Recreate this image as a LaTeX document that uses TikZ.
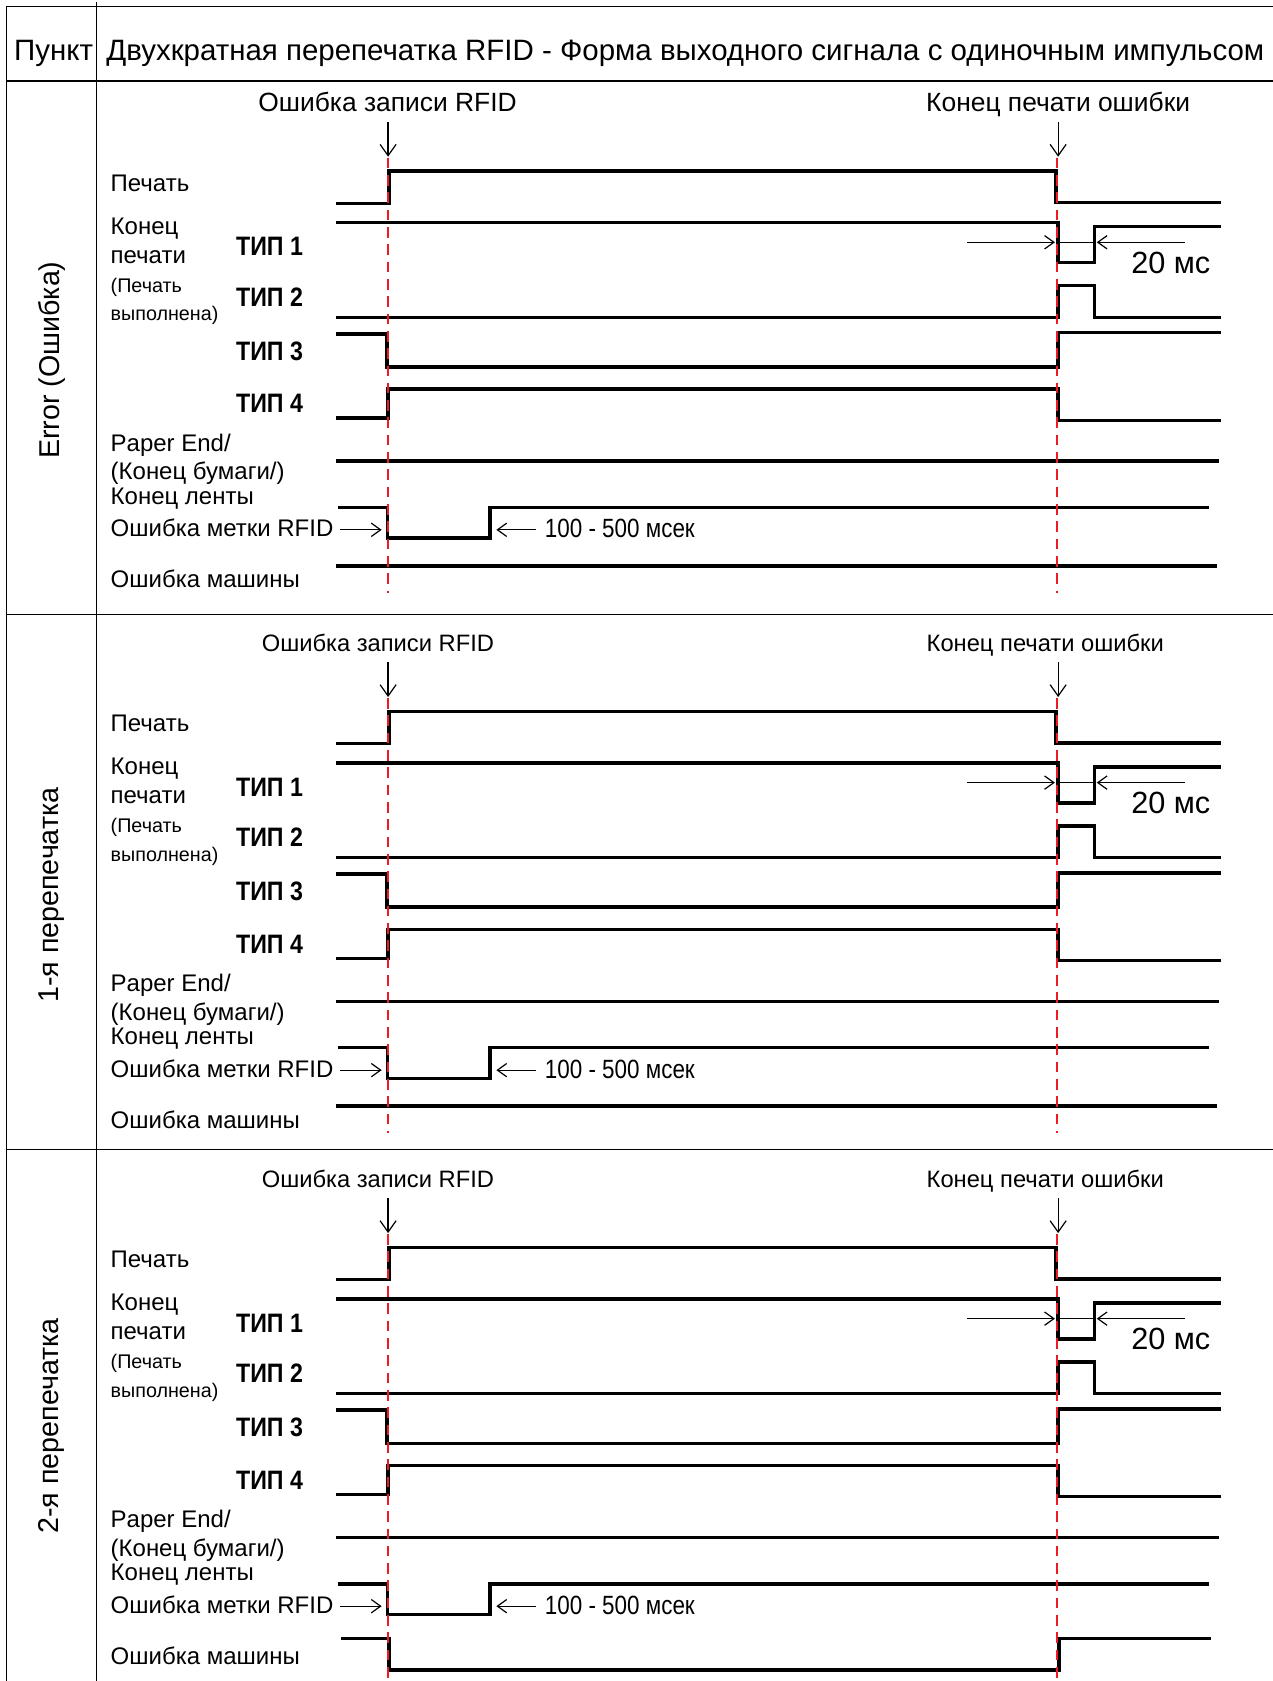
\documentclass[tikz,border=0pt]{standalone}
\usepackage{fontspec}
\setmainfont{Liberation Sans}
\newfontfamily\condfont{Liberation Sans}[FakeStretch=0.85]
\newfontfamily\tipfont{Liberation Sans}[FakeStretch=0.87]
\usetikzlibrary{arrows.meta}
\definecolor{redline}{RGB}{237,28,36}
\begin{document}
\begin{tikzpicture}[x=0.8044pt,y=-0.8044pt,
  sig/.style={line width=2.6pt,line join=miter,line cap=butt},
  gridline/.style={line width=1.1pt},
  evarrow/.style={line width=0.9pt,-{Straight Barb[length=8.5pt,width=12pt]}},
  darrow/.style={line width=0.9pt,-{Straight Barb[length=7pt,width=10pt]}},
  redl/.style={redline,line width=1.5pt,dash pattern=on 8pt off 5pt},
  lab/.style={anchor=base west,inner sep=0pt,font=\fontsize{18}{20}\selectfont},
  smalllab/.style={anchor=base west,inner sep=0pt,font=\fontsize{14.8}{17}\selectfont},
  tiplab/.style={anchor=base west,inner sep=0pt,font=\tipfont\bfseries\fontsize{20}{24}\selectfont},
  condlab/.style={anchor=base west,inner sep=0pt,font=\condfont\fontsize{19.8}{22}\selectfont},
  mslab/.style={anchor=base west,inner sep=0pt,font=\fontsize{23}{24}\selectfont},
  seclab/.style={rotate=90,inner sep=0pt,font=\fontsize{21.5}{24}\selectfont},
  headlab/.style={anchor=base west,inner sep=0pt,font=\fontsize{22.1}{24}\selectfont}]
\useasboundingbox (0,0) rectangle (1187,1568);
% table
\draw[gridline] (6,6) -- (1187,6);
\draw[gridline] (6,6) -- (6,1568);
\draw[gridline] (90,2) -- (90,1568);
\draw[gridline] (6,75.5) -- (1187,75.5);
\draw[gridline] (6,573.4) -- (1187,573.4);
\draw[gridline] (6,1072.3) -- (1187,1072.3);
\node[headlab] (hp) at (13,56.9) {Пункт};
\node[headlab] (ht) at (99,56.9) {Двухкратная перепечатка RFID - Форма выходного сигнала с одиночным импульсом};
\node[seclab] (s1) at (48,336) {Error (Ошибка)};
\node[seclab] (s2) at (48,835) {1-я перепечатка};
\node[seclab] (s3) at (48,1330) {2-я перепечатка};
\foreach \off/\n/\evf/\xa/\xb in {0/a/19.8/361.5/987, 504/b/17.8/352.5/975, 1004/c/17.8/352.5/975}{
\begin{scope}[shift={(0,\off)}]
  \node[anchor=base,inner sep=0pt,font=\fontsize{\evf}{24}\selectfont] (ew\n) at (\xa,103.9) {Ошибка записи RFID};
  \node[anchor=base,inner sep=0pt,font=\fontsize{\evf}{24}\selectfont] (ee\n) at (\xb,103.9) {Конец печати ошибки};
  \coordinate (t1\n) at (362,146.2);
  \coordinate (t2\n) at (987,146.2);
  \draw[evarrow] (362,113.8) -- (t1\n);
  \draw[evarrow] (987,113.8) -- (t2\n);
  % labels
  \node[lab] (pr\n) at (103,178.5) {Печать};
  \node[lab] (k1\n) at (103,218.7) {Конец};
  \node[lab] (k2\n) at (103,245.4) {печати};
  \node[smalllab] (k3\n) at (103,272.7) {(Печать};
  \node[smalllab] (k4\n) at (103,299.3) {выполнена)};
  \node[tiplab] (ta\n) at (220,238.7) {ТИП 1};
  \node[tiplab] (tb\n) at (220,286) {ТИП 2};
  \node[tiplab] (tc\n) at (220,336) {ТИП 3};
  \node[tiplab] (td\n) at (220,385) {ТИП 4};
  \node[lab] (p1\n) at (103,420.9) {Paper End/};
  \node[lab] (p2\n) at (103,447.5) {(Конец бумаги/)};
  \node[lab] (p3\n) at (103,470.2) {Конец ленты};
  \node[lab] (rf\n) at (103,500.8) {Ошибка метки RFID};
  \node[lab] (me\n) at (103,548.2) {Ошибка машины};
  % waveforms
  \draw[sig] (313,189.6) -- (363,189.6) -- (363,159.5) -- (985,159.5) -- (985,189) -- (1139,189);
  \draw[sig] (313,207.6) -- (987,207.6) -- (987,245) -- (1021,245) -- (1021,211.3) -- (1139,211.3);
  \draw[sig] (313,296) -- (987,296) -- (987,266.4) -- (1021,266.4) -- (1021,296) -- (1139,296);
  \draw[sig] (313,311.4) -- (361,311.4) -- (361,342.2) -- (987,342.2) -- (987,310.2) -- (1139,310.2);
  \draw[sig] (313,390) -- (362,390) -- (362,363) -- (987,363) -- (987,392) -- (1139,392);
  \draw[sig] (313,430.2) -- (1137,430.2);
  \draw[sig] (315,473.3) -- (361.5,473.3) -- (361.5,502) -- (457,502) -- (457,473.3) -- (1128,473.3);
  % 20 ms dimension
  \draw[darrow] (902,226) -- (984,226);
  \draw[line width=0.9pt] (987,226) -- (1021,226);
  \draw[darrow] (1105,226) -- (1023,226);
  \node[mslab] (ms\n) at (1055,255) {20 мс};
  % RFID arrows
  \coordinate (ra\n) at (317,494.2);
  \draw[darrow] (ra\n) -- (356,494.2);
  \draw[darrow] (500.4,494.2) -- (463,494.2);
  \node[condlab] (dl\n) at (508,501.8) {100 - 500 мсек};
\end{scope}
}
% machine error signals
\draw[sig] (313,527.8) -- (1135,527.8);
\draw[sig] (313,1031.8) -- (1135,1031.8);
\draw[sig] (318,1528.2) -- (363,1528.2) -- (363,1557.7) -- (987.7,1557.7) -- (987.7,1528.2) -- (1130,1528.2);
% red dashed lines
\draw[redl] (361.5,147) -- (361.5,553);
\draw[redl] (986,147) -- (986,553);
\draw[redl] (361.5,651) -- (361.5,1057);
\draw[redl] (986,651) -- (986,1057);
\draw[redl] (361.5,1151) -- (361.5,1568);
\draw[redl] (986,1151) -- (986,1568);
\end{tikzpicture}
\end{document}
